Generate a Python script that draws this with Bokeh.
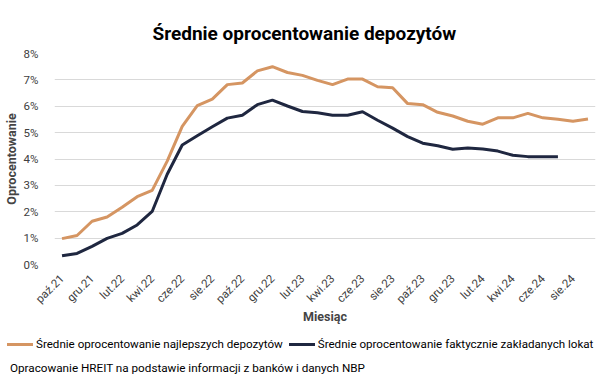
from bokeh.plotting import figure
from bokeh.models import Range1d, FixedTicker, Div
from bokeh.layouts import column
from bokeh.embed import file_html
from bokeh.resources import INLINE
import math

months = ["paź.21","lis.21","gru.21","sty.22","lut.22","mar.22","kwi.22","maj.22","cze.22","lip.22","sie.22","wrz.22",
          "paź.22","lis.22","gru.22","sty.23","lut.23","mar.23","kwi.23","maj.23","cze.23","lip.23","sie.23","wrz.23",
          "paź.23","lis.23","gru.23","sty.24","lut.24","mar.24","kwi.24","maj.24","cze.24","lip.24","sie.24","wrz.24"]

best = [0.98,1.10,1.64,1.80,2.17,2.57,2.81,3.92,5.24,6.02,6.27,6.82,
        6.88,7.34,7.50,7.28,7.17,6.98,6.82,7.03,7.03,6.74,6.70,6.10,
        6.06,5.77,5.63,5.43,5.32,5.56,5.56,5.73,5.56,5.51,5.43,5.52]

actual = [0.33,0.42,0.69,0.99,1.18,1.50,2.01,3.42,4.53,4.88,5.22,5.55,
          5.66,6.06,6.23,6.01,5.80,5.75,5.66,5.66,5.79,5.47,5.17,4.85,
          4.60,4.50,4.37,4.42,4.38,4.30,4.14,4.09,4.09,4.09]

y_ticks = [0, 1, 2, 3, 4, 5, 6, 7, 8]

title_text = "Średnie oprocentowanie depozytów"
x_title = "Miesiąc"
y_title = "Oprocentowanie"
name_best = "Średnie oprocentowanie najlepszych depozytów"
name_actual = "Średnie oprocentowanie faktycznie zakładanych lokat"
footer = "Opracowanie HREIT na podstawie informacji z banków i danych NBP"

FONT = "Roboto"
ORANGE = "#D59562"
NAVY = "#1F2740"
W = 597

p = figure(width=W, height=326, output_backend="svg", toolbar_location=None,
           x_range=Range1d(-0.5, len(months) - 0.5), y_range=Range1d(0, 8),
           min_border_left=53, min_border_right=2, min_border_top=53, min_border_bottom=4)

p.title.text = title_text
p.title.align = "left"
p.title.text_font = FONT
p.title.text_font_size = "19px"
p.title.text_font_style = "bold"
p.title.text_color = "#000000"
p.title.offset = 98
p.title.standoff = 18

xs_best = list(range(len(best)))
xs_act = list(range(len(actual)))
p.line(xs_best, best, line_color=ORANGE, line_width=3)
p.line(xs_act, actual, line_color=NAVY, line_width=3)

p.outline_line_color = None
p.xgrid.grid_line_color = None
p.ygrid.grid_line_color = "#D9D9D9"
p.ygrid.grid_line_width = 1

p.yaxis.ticker = FixedTicker(ticks=y_ticks)
p.yaxis.major_label_overrides = {t: f"{t}%" for t in y_ticks}
p.yaxis.axis_line_color = None
p.yaxis.major_tick_line_color = None
p.yaxis.minor_tick_line_color = None
p.yaxis.major_label_text_font = FONT
p.yaxis.major_label_text_font_size = "11.5px"
p.yaxis.major_label_text_color = "#404040"
p.yaxis.major_label_standoff = 10
p.yaxis.axis_label = y_title
p.yaxis.axis_label_text_font = FONT
p.yaxis.axis_label_text_font_style = "bold"
p.yaxis.axis_label_text_font_size = "12.5px"
p.yaxis.axis_label_standoff = 2

xt = list(range(0, len(months) - 1, 2))
p.xaxis.ticker = FixedTicker(ticks=xt)
p.xaxis.major_label_overrides = {i: months[i] for i in xt}
p.xaxis.major_label_orientation = math.pi / 4
p.xaxis.axis_line_color = None
p.xaxis.major_tick_line_color = None
p.xaxis.minor_tick_line_color = None
p.xaxis.major_label_text_font = FONT
p.xaxis.major_label_text_font_size = "11.5px"
p.xaxis.major_label_text_color = "#404040"
p.xaxis.major_label_standoff = 6
p.xaxis.axis_label = x_title
p.xaxis.axis_label_text_font = FONT
p.xaxis.axis_label_text_font_style = "bold"
p.xaxis.axis_label_text_font_size = "12.5px"
p.xaxis.axis_label_standoff = -5

def swatch(color):
    return (f'<span style="display:inline-block;width:26px;height:3px;background:{color};'
            f'margin-right:3px"></span>')

H2 = 50
html = (
    f'<div style="position:relative;width:{W}px;height:{H2}px;font-family:{FONT};color:#000;">'
    f'<div style="position:absolute;left:7px;top:11px;height:14px;display:flex;align-items:center;'
    f'white-space:nowrap;font-size:11.6px;line-height:14px;">'
    f'{swatch(ORANGE)}<span>{name_best}</span>'
    f'<span style="display:inline-block;width:6px"></span>'
    f'{swatch(NAVY)}<span>{name_actual}</span></div>'
    f'<div style="position:absolute;left:10px;top:35px;white-space:nowrap;font-size:11.7px;'
    f'line-height:14px;">{footer}</div></div>'
)
d = Div(text=html, width=W, height=H2, margin=0)

open("out.html", "w").write(file_html(column(p, d, spacing=0), INLINE))
